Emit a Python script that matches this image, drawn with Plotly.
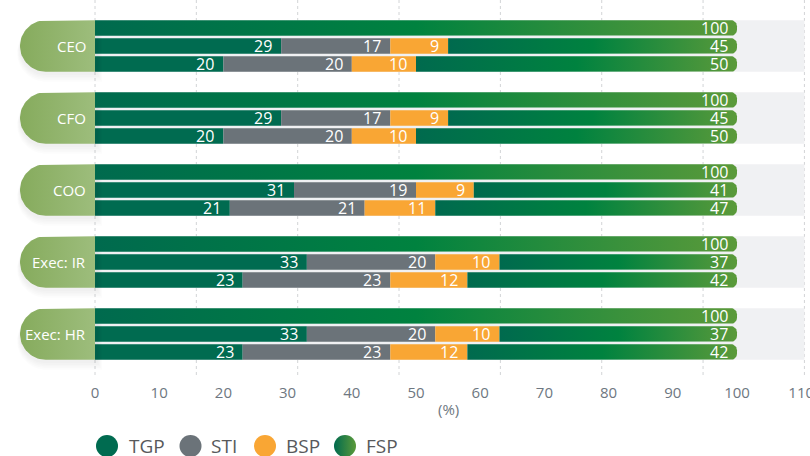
import numpy as np
import plotly.graph_objects as go

# ---------------- data ----------------
roles = ["CEO", "CFO", "COO", "Exec: IR", "Exec: HR"]
total = [100, 100, 100, 100, 100]

# middle row of each group
tgp_a = [29, 29, 31, 33, 33]
sti_a = [17, 17, 19, 20, 20]
bsp_a = [9, 9, 9, 10, 10]
fsp_a = [45, 45, 41, 37, 37]

# bottom row of each group
tgp_b = [20, 20, 21, 23, 23]
sti_b = [20, 20, 21, 23, 23]
bsp_b = [10, 10, 11, 12, 12]
fsp_b = [50, 50, 47, 42, 42]

x_ticks = [0, 10, 20, 30, 40, 50, 60, 70, 80, 90, 100, 110]
legend_labels = ["TGP", "STI", "BSP", "FSP"]

# ---------------- styling ----------------
FONT = "Open Sans"
C_TGP = "#006b50"
C_STI = "#6b7379"
C_BSP = "#f9a634"
GRAD = [[0.0, "#006a4e"], [0.5, "#00823f"], [1.0, "#5b9a3a"]]
PILL_GRAD = [[0.0, "#86ab5d"], [1.0, "#9dbd7c"]]
BAND = "#f0f1f3"

W, H = 810, 456
PX_X = 6.42          # pixels per percentage point
ZERO_PX = 95         # pixel column of x = 0
PX_Y = 18            # pixels per bar slot
x_range = [-ZERO_PX / PX_X, (W - ZERO_PX) / PX_X]

PLOT_BOTTOM_PX = 375
FIRST_CENTER_PX = 46
GROUP_STEP = 4
n = len(roles)
centers = [-GROUP_STEP * i for i in range(n)]
last_center_px = FIRST_CENTER_PX + GROUP_STEP * (n - 1) * PX_Y
y_hi = FIRST_CENTER_PX / PX_Y
y_lo = centers[-1] - (PLOT_BOTTOM_PX - last_center_px) / PX_Y

HALF = 0.43              # half bar thickness (slot units)
BAND_HALF = 1 + HALF     # half height of a group block
END_R = 6                # px radius of the rounded bar ends


def rounded_bar(x0, x1, yc, h=HALF, r_px=END_R):
    rx, ry = r_px / PX_X, r_px / PX_Y
    t1 = np.linspace(-np.pi / 2, 0, 10)
    t2 = np.linspace(0, np.pi / 2, 10)
    xs = [x0, x1 - rx] + list(x1 - rx + rx * np.cos(t1)) + list(x1 - rx + rx * np.cos(t2)) + [x0, x0]
    ys = ([yc - h, yc - h] + list(yc - h + ry + ry * np.sin(t1))
          + list(yc + h - ry + ry * np.sin(t2)) + [yc + h, yc - h])
    return xs, ys


def pill(yc, left_px=20, right=0.0, grow_px=0.0, drop_px=0.0):
    r_units = BAND_HALF + grow_px / PX_Y
    r_px = r_units * PX_Y
    cx = (left_px - grow_px + r_px - ZERO_PX) / PX_X
    rx = r_px / PX_X
    yc = yc - drop_px / PX_Y
    t = np.linspace(np.pi / 2, 3 * np.pi / 2, 40)
    xs = [right] + list(cx + rx * np.cos(t)) + [right, right]
    ys = [yc + r_units] + list(yc + r_units * np.sin(t)) + [yc - r_units, yc + r_units]
    return xs, ys


fig = go.Figure()

# rows: top (total), middle (a), bottom (b)
y_top = [c + 1 for c in centers]
y_a = centers
y_b = [c - 1 for c in centers]

# stacked solid segments
rows_y = y_a + y_b
tgp = tgp_a + tgp_b
sti = sti_a + sti_b
bsp = bsp_a + bsp_b
fsp = fsp_a + fsp_b
base_sti = tgp
base_bsp = [t + s for t, s in zip(tgp, sti)]
base_fsp = [t + s + b for t, s, b in zip(tgp, sti, bsp)]

for name, vals, base, col in [("TGP", tgp, [0] * len(tgp), C_TGP),
                              ("STI", sti, base_sti, C_STI),
                              ("BSP", bsp, base_bsp, C_BSP)]:
    fig.add_trace(go.Bar(
        x=vals, y=rows_y, base=base, orientation="h", width=2 * HALF,
        marker=dict(color=col, line=dict(width=0)), name=name,
        showlegend=False, hoverinfo="skip"))

# group label pills with a soft shadow underneath
for yc in centers:
    for i in range(1, 6):
        xs, ys = pill(yc, right=(2 + i) / PX_X, grow_px=i * 0.6, drop_px=2 + i)
        fig.add_trace(go.Scatter(
            x=xs, y=ys, mode="lines", fill="toself",
            fillcolor="rgba(0,0,0,0.012)", line=dict(width=0, color="rgba(0,0,0,0)"),
            showlegend=False, hoverinfo="skip"))
for yc in centers:
    xs, ys = pill(yc)
    fig.add_trace(go.Scatter(
        x=xs, y=ys, mode="lines", fill="toself",
        fillgradient=dict(type="horizontal", colorscale=PILL_GRAD,
                          start=min(xs), stop=0),
        line=dict(width=0, color="rgba(0,0,0,0)"),
        showlegend=False, hoverinfo="skip"))

# gradient segments: total bars and FSP
grad_bars = [(0, v, y) for v, y in zip(total, y_top)]
grad_bars += [(b, b + f, y) for b, f, y in zip(base_fsp, fsp, rows_y)]
for x0, x1, yc in grad_bars:
    xs, ys = rounded_bar(x0, x1, yc)
    fig.add_trace(go.Scatter(
        x=xs, y=ys, mode="lines", fill="toself",
        fillgradient=dict(type="horizontal", colorscale=GRAD, start=x0, stop=x1),
        line=dict(width=0, color="rgba(0,0,0,0)"),
        showlegend=False, hoverinfo="skip"))

annotations = []


def value_label(x, y, v):
    annotations.append(dict(
        x=x, y=y, xref="x", yref="y", text=str(v), showarrow=False,
        xanchor="right", yanchor="middle", xshift=-7,
        font=dict(family=FONT, size=16, color="white")))


for v, y in zip(total, y_top):
    value_label(v, y, v)
for i in range(len(rows_y)):
    value_label(tgp[i], rows_y[i], tgp[i])
    value_label(base_bsp[i], rows_y[i], sti[i])
    value_label(base_fsp[i], rows_y[i], bsp[i])
    value_label(base_fsp[i] + fsp[i], rows_y[i], fsp[i])

for role, yc in zip(roles, centers):
    annotations.append(dict(
        x=0, y=yc, xref="x", yref="y", text=role, showarrow=False,
        xanchor="right", yanchor="middle", xshift=-7,
        font=dict(family=FONT, size=15, color="white")))

annotations.append(dict(
    x=55, y=(H - 409) / H, xref="x", yref="paper", text="(%)", showarrow=False,
    xanchor="center", yanchor="middle",
    font=dict(family=FONT, size=15, color="#6e7781")))

# background blocks and dotted grid
shapes = []
GRID_END = 110.5
for k in range(8):
    gx = k * GRID_END / 7
    shapes.append(dict(type="line", xref="x", yref="y", x0=gx, x1=gx,
                       y0=y_lo, y1=y_hi + 1, layer="below",
                       line=dict(color="#d2d4d6", width=1, dash="dot")))
for yc in centers:
    shapes.append(dict(type="rect", xref="x", yref="y", x0=0, x1=GRID_END,
                       y0=yc - BAND_HALF, y1=yc + BAND_HALF, layer="below",
                       fillcolor=BAND, line=dict(width=0)))

# legend row
leg_marker_px = [107, 190.5, 265, 345]
leg_text_px = [127, 209, 284, 364]
leg_colors = [C_TGP, C_STI, C_BSP, "#006a4e"]
for i, lab in enumerate(legend_labels):
    mk = dict(size=22, color=leg_colors[i], line=dict(width=0))
    if lab == "FSP":
        mk["gradient"] = dict(type="horizontal", color="#5b9a3a")
    fig.add_trace(go.Scatter(
        x=[(leg_marker_px[i] - ZERO_PX) / PX_X], y=[0], xaxis="x2", yaxis="y2",
        mode="markers", marker=mk, showlegend=False, hoverinfo="skip"))
    annotations.append(dict(
        x=leg_text_px[i] / W, y=(H - 446) / H, xref="paper", yref="paper",
        text=lab, showarrow=False, xanchor="left", yanchor="middle",
        font=dict(family=FONT, size=19, color="#58595b")))

fig.update_layout(
    width=W, height=H,
    margin=dict(l=0, r=0, t=0, b=0),
    paper_bgcolor="white", plot_bgcolor="white",
    barmode="overlay",
    showlegend=False,
    xaxis=dict(range=x_range, tickvals=x_ticks, ticktext=[str(t) for t in x_ticks],
               showgrid=False, zeroline=False, showline=False, ticks="",
               ticklabelstandoff=7, ticklabeloverflow="allow",
               tickfont=dict(family=FONT, size=15, color="#6e7781"),
               automargin=False, fixedrange=True),
    yaxis=dict(range=[y_lo, y_hi], domain=[(H - PLOT_BOTTOM_PX) / H, 1],
               visible=False, fixedrange=True),
    xaxis2=dict(range=x_range, anchor="y2", visible=False, fixedrange=True),
    yaxis2=dict(range=[-0.28, 1], domain=[0, 0.1], anchor="x2",
                visible=False, fixedrange=True),
    shapes=shapes,
    annotations=annotations,
)

fig.write_html("out.html")
